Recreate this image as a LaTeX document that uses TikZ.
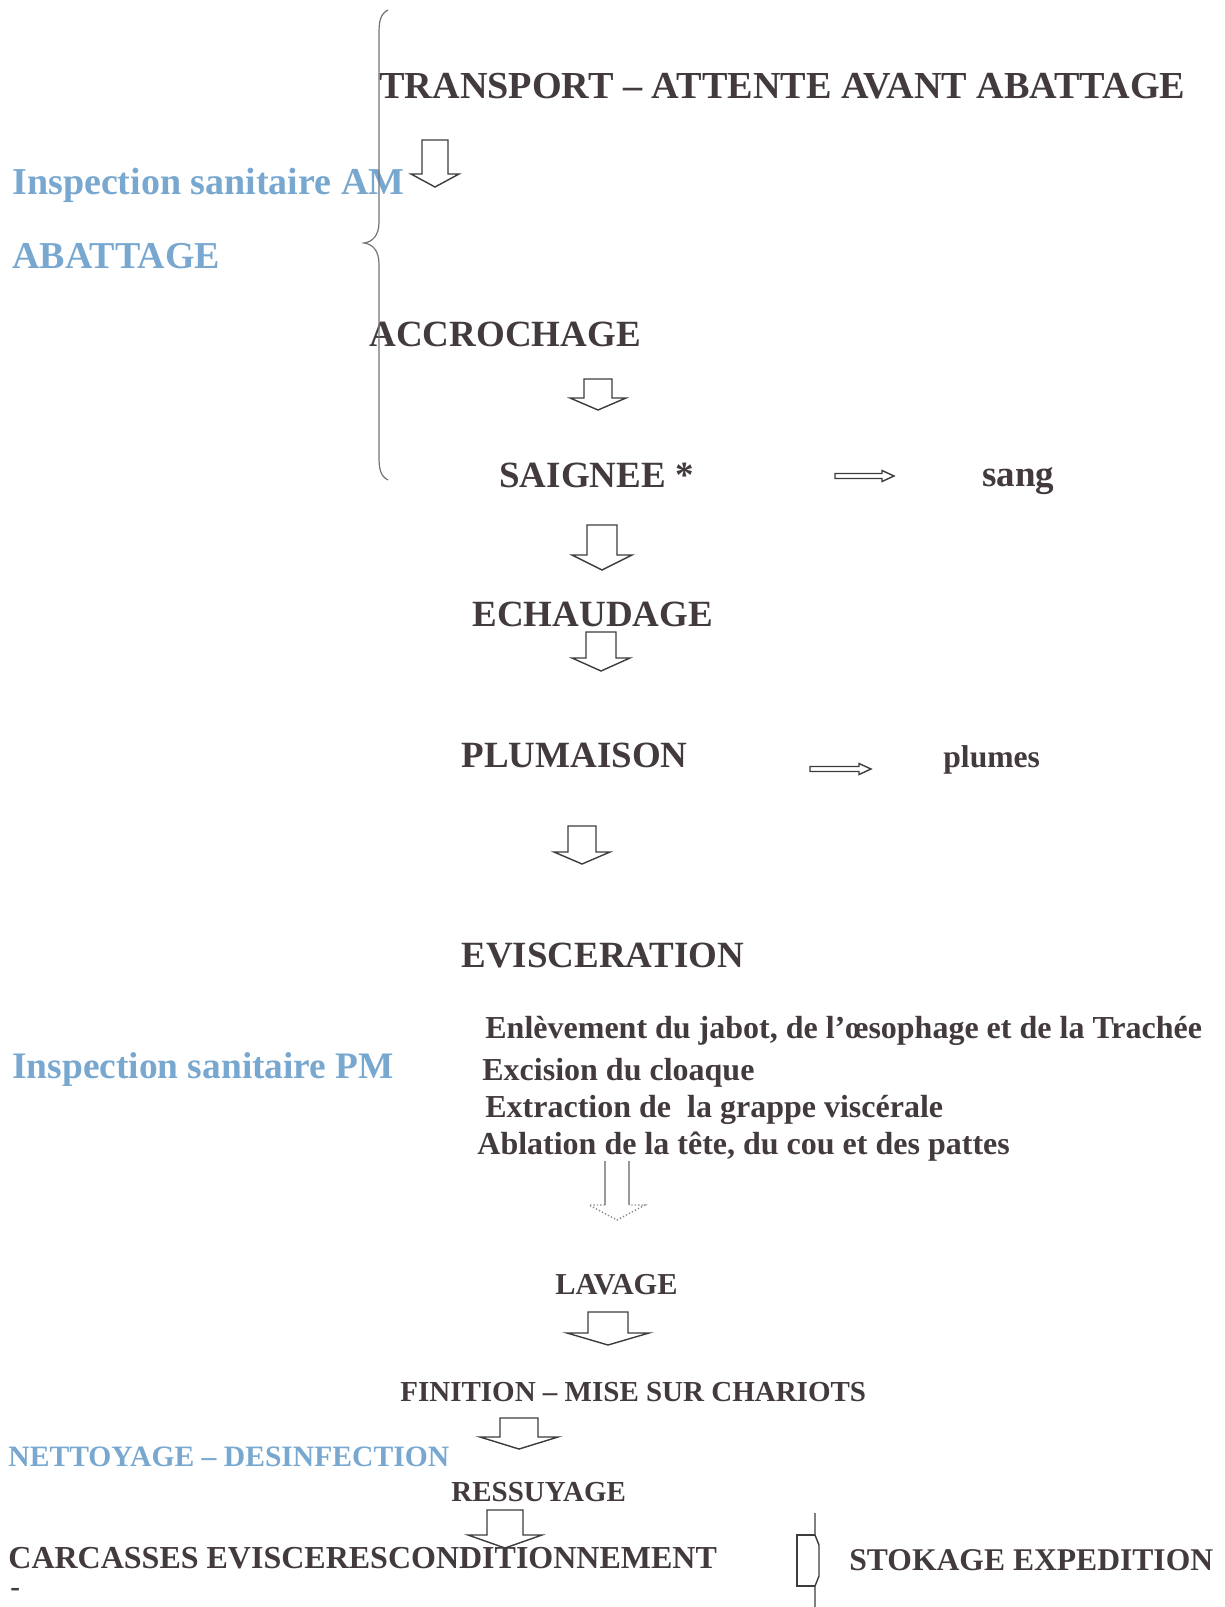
\documentclass[tikz,border=0pt]{standalone}
\usepackage{fontspec}
\setmainfont{Liberation Serif}
\definecolor{ink}{RGB}{66,58,62}
\definecolor{insp}{RGB}{120,168,208}
\definecolor{edge}{RGB}{60,60,60}

% hollow block arrow pointing down: x, top, head base, tip, shaft half width, head half width
\newcommand{\dnarrow}[7][]{%
  \draw[blk,#1] (#2-#6,#3) -- (#2+#6,#3) -- (#2+#6,#4) -- (#2+#7,#4) -- (#2,#5)
    -- (#2-#7,#4) -- (#2-#6,#4) -- cycle;}
% thin hollow arrow pointing right: left x, head base x, tip x, y, shaft half, head half
\newcommand{\rtarrow}[6]{%
  \draw[blk] (#1,#4-#5) -- (#2,#4-#5) -- (#2,#4-#6) -- (#3,#4) -- (#2,#4+#6)
    -- (#2,#4+#5) -- (#1,#4+#5) -- cycle;}

\begin{document}
\begin{tikzpicture}[x=0.5pt, y=-0.5pt]
  \tikzset{
    bigtxt/.style={anchor=base west, inner sep=0pt, font=\fontsize{18.5}{20}\selectfont\bfseries, text=ink},
    midtxt/.style={bigtxt, font=\fontsize{16}{18}\selectfont\bfseries},
    smalltxt/.style={bigtxt, font=\fontsize{14.5}{16}\selectfont\bfseries},
    insptxt/.style={bigtxt, font=\fontsize{19}{20}\selectfont\bfseries, text=insp},
    blk/.style={draw=edge, line width=0.7pt, line join=miter},
    bracecurve/.style={draw=black!55, line width=0.6pt}
  }
  \useasboundingbox (0,0) rectangle (1225,1607);

  % Before slaughter
  \node[bigtxt, font=\fontsize{19.1}{20}\selectfont\bfseries] (transport) at (379,98) {TRANSPORT – ATTENTE AVANT ABATTAGE};
  \node[insptxt] (inspam) at (12,194) {Inspection sanitaire AM};
  \node[insptxt] (abattage) at (12,268) {ABATTAGE};
  \node[bigtxt] (accrochage) at (369,346) {ACCROCHAGE};
  \node[bigtxt] (saignee) at (499,487) {SAIGNEE *};
  \node[bigtxt] (sang) at (982,486) {sang};

  % brace
  \draw[bracecurve] (388,10) .. controls (380,14) and (379,22) .. (379,34)
    -- (379,222) .. controls (379,236) and (372,242) .. (364,243)
    .. controls (372,244) and (379,250) .. (379,264)
    -- (379,456) .. controls (379,468) and (380,476) .. (388,480);

  \dnarrow{435}{140}{174}{187}{13}{24}
  \dnarrow{598}{379}{398}{410}{14}{28}
  \rtarrow{835}{882}{894}{476}{2.5}{5.5}

  % Scalding, plucking
  \dnarrow{602}{525}{555}{570}{15}{30}
  \node[bigtxt] (echaudage) at (472,626) {ECHAUDAGE};
  \dnarrow{601}{632}{658}{671}{15}{29}
  \node[bigtxt] (plumaison) at (461,767) {PLUMAISON};
  \rtarrow{810}{859}{871}{769}{2.5}{5.5}
  \node[midtxt, font=\fontsize{15.8}{18}\selectfont\bfseries] (plumes) at (943,767) {plumes};
  \dnarrow{582}{826}{852}{864}{14}{28}

  % Evisceration
  \node[bigtxt] (evisceration) at (461,967) {EVISCERATION};
  \node[midtxt] (op1) at (485,1038) {Enlèvement du jabot, de l’œsophage et de la Trachée};
  \node[insptxt, font=\fontsize{18.7}{20}\selectfont\bfseries] (insppm) at (12,1078) {Inspection sanitaire PM};
  \node[midtxt] (op2) at (482,1080) {Excision du cloaque};
  \node[midtxt] (op3) at (485,1117) {Extraction de\ \ la grappe viscérale};
  \node[midtxt] (op4) at (477,1154) {Ablation de la tête, du cou et des pattes};
  \draw[blk, draw=black!40] (605,1161) -- (605,1205) (629,1161) -- (629,1205);
  \draw[blk, draw=black!45, densely dotted] (605,1205) -- (589,1205) -- (617,1220) -- (645,1205) -- (629,1205);

  % Finishing
  \node[smalltxt, font=\fontsize{15.2}{16}\selectfont\bfseries] (lavage) at (555,1294) {LAVAGE};
  \dnarrow{608}{1312}{1333}{1345}{20}{41}
  \node[smalltxt] (finition) at (400,1401) {FINITION – MISE SUR CHARIOTS};
  \dnarrow{519}{1418}{1437}{1449}{19}{39}
  \node[smalltxt, font=\fontsize{14.8}{16}\selectfont\bfseries, text=insp] (nettoyage) at (8,1466) {NETTOYAGE – DESINFECTION};
  \node[smalltxt] (ressuyage) at (451,1501) {RESSUYAGE};
  \dnarrow{505}{1510}{1535}{1548}{18}{37}
  \node[midtxt] (carcasses) at (8,1568) {CARCASSES EVISCERESCONDITIONNEMENT};
  \node[smalltxt] (dash) at (10,1596) {-};

  % storage mark
  \draw[blk] (815,1513) -- (815,1535) -- (819,1545) -- (819,1576) -- (815,1586) -- (815,1607);
  \draw[blk] (815,1535) -- (797,1535) -- (797,1586) -- (815,1586);
  \node[midtxt, font=\fontsize{15.8}{18}\selectfont\bfseries] (stokage) at (849,1570) {STOKAGE EXPEDITION};

\end{tikzpicture}
\end{document}
